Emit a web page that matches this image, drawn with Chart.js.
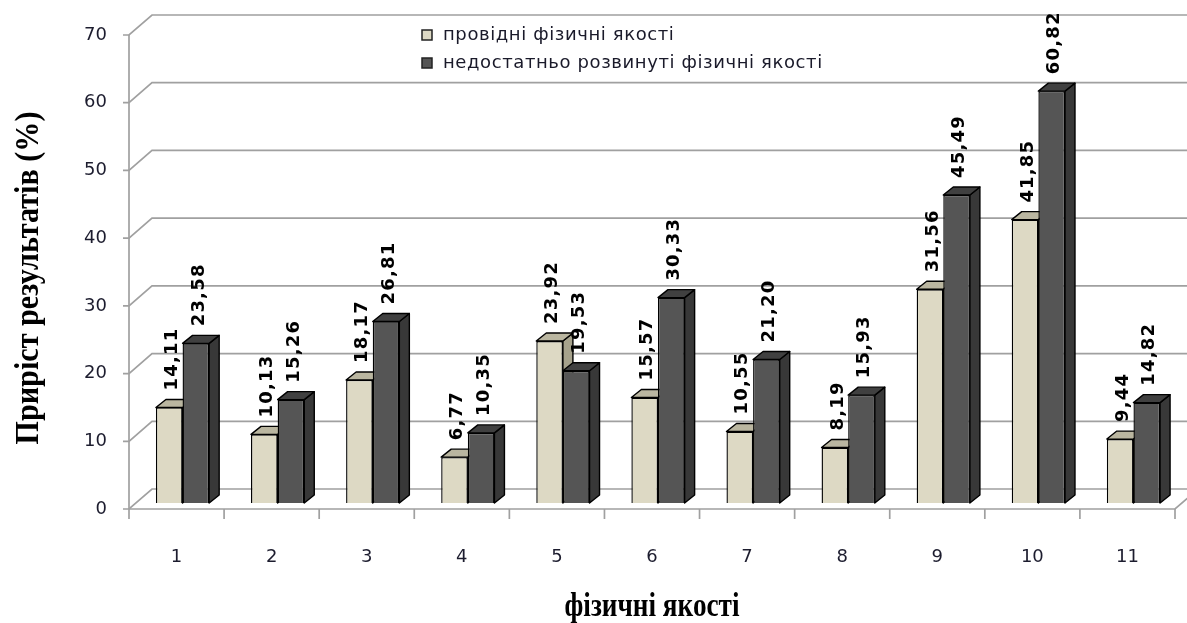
<!DOCTYPE html>
<html>
<head>
<meta charset="utf-8">
<script src="https://cdn.jsdelivr.net/npm/chart.js@4/dist/chart.umd.min.js"></script>
<style>
  html, body { margin: 0; padding: 0; background: #fff; }
  canvas { display: block; }
</style>
</head>
<body>
<canvas id="chart" width="1187" height="623"></canvas>
<script>
// Categories (physical qualities, numbered)
const categories = ['1', '2', '3', '4', '5', '6', '7', '8', '9', '10', '11'];

// Gain in results, %
const leadingQualities = [14.11, 10.13, 18.17, 6.77, 23.92, 15.57, 10.55, 8.19, 31.56, 41.85, 9.44];
const weakQualities    = [23.58, 15.26, 26.81, 10.35, 19.53, 30.33, 21.20, 15.93, 45.49, 60.82, 14.82];

const seriesNames = ['провідні фізичні якості', 'недостатньо розвинуті фізичні якості'];
const yTicks = [0, 10, 20, 30, 40, 50, 60, 70];
const xTitle = 'фізичні якості';
const yTitle = 'Приріст результатів (%)';

// Pseudo-3D geometry
const WALL = { x: 23, y: -20 };   // depth of the back wall / floor
const SHIFT = { x: 6, y: -6 };    // bars sit a little behind the front edge
const DEPTH = { x: 10, y: -8 };   // depth of each bar

const frontColors = ['#DDD9C4', '#555555'];
const topColors   = ['#BAB6A0', '#404040'];
const sideColors  = ['#A6A28C', '#383838'];

const fmt = v => v.toFixed(2).replace('.', ',');

function poly(ctx, pts) {
  ctx.beginPath();
  ctx.moveTo(pts[0][0], pts[0][1]);
  for (let k = 1; k < pts.length; k++) ctx.lineTo(pts[k][0], pts[k][1]);
  ctx.closePath();
  ctx.fill();
  ctx.stroke();
}

function drawCompressed(ctx, text, font, cx, cy, targetLen, angle) {
  ctx.save();
  ctx.font = font;
  const w = ctx.measureText(text).width;
  ctx.translate(cx, cy);
  ctx.rotate(angle);
  ctx.scale(targetLen / w, 1);
  ctx.textAlign = 'center';
  ctx.textBaseline = 'alphabetic';
  ctx.fillStyle = '#000';
  ctx.fillText(text, 0, 0);
  ctx.restore();
}

const bars3d = {
  id: 'bars3d',
  beforeDatasetsDraw(chart) {
    const { ctx, chartArea: a, scales: { x, y } } = chart;
    const y0 = y.getPixelForValue(0);
    const yTop = y.getPixelForValue(yTicks[yTicks.length - 1]);

    ctx.save();
    // back wall gridlines, diagonals and tick marks
    ctx.strokeStyle = '#a0a0a0';
    ctx.lineWidth = 1.7;
    yTicks.forEach(v => {
      const py = y.getPixelForValue(v);
      ctx.beginPath();
      ctx.moveTo(a.left - 6, py);
      ctx.lineTo(a.left, py);
      ctx.lineTo(a.left + WALL.x, py + WALL.y);
      ctx.lineTo(a.right + WALL.x + 30, py + WALL.y);
      ctx.stroke();
    });
    // front floor edge
    ctx.beginPath();
    ctx.moveTo(a.left, y0);
    ctx.lineTo(a.right, y0);
    ctx.lineTo(a.right + WALL.x, y0 + WALL.y);
    ctx.stroke();
    // value axis
    ctx.beginPath();
    ctx.moveTo(a.left, yTop);
    ctx.lineTo(a.left, y0);
    ctx.stroke();
    // category tick marks
    const n = categories.length;
    for (let i = 0; i <= n; i++) {
      let px;
      if (i === 0) px = a.left;
      else if (i === n) px = a.right;
      else px = (x.getPixelForValue(i - 1) + x.getPixelForValue(i)) / 2;
      ctx.beginPath();
      ctx.moveTo(px, y0);
      ctx.lineTo(px, y0 + 10);
      ctx.stroke();
    }
    ctx.restore();

    // bars: side, top, then front face, category by category
    const metas = chart.data.datasets.map((_, i) => chart.getDatasetMeta(i));
    ctx.save();
    ctx.translate(SHIFT.x, SHIFT.y);
    ctx.strokeStyle = '#000';
    ctx.lineWidth = 1.4;
    ctx.lineJoin = 'round';
    categories.forEach((_, j) => {
      metas.forEach((m, i) => {
        const el = m.data[j];
        const p = el.getProps(['x', 'y', 'base', 'width'], true);
        const l = p.x - p.width / 2, r = p.x + p.width / 2;
        ctx.fillStyle = sideColors[i];
        poly(ctx, [[r, p.y], [r + DEPTH.x, p.y + DEPTH.y], [r + DEPTH.x, p.base + DEPTH.y], [r, p.base]]);
        ctx.fillStyle = topColors[i];
        poly(ctx, [[l, p.y], [l + DEPTH.x, p.y + DEPTH.y], [r + DEPTH.x, p.y + DEPTH.y], [r, p.y]]);
        el.draw(ctx, a);
      });
    });

    // value labels, rotated
    ctx.font = 'bold 18px "DejaVu Sans"';
    ctx.letterSpacing = '1.2px';
    ctx.fillStyle = '#000';
    ctx.textAlign = 'left';
    ctx.textBaseline = 'middle';
    metas.forEach((m, i) => {
      const values = chart.data.datasets[i].data;
      m.data.forEach((el, j) => {
        const p = el.getProps(['x', 'y'], true);
        ctx.save();
        ctx.translate(p.x + 3, p.y - 17);
        ctx.rotate(-Math.PI / 2);
        ctx.fillText(fmt(values[j]), 0, 0);
        ctx.restore();
      });
    });
    ctx.restore();
    return false;
  },
  afterDraw(chart) {
    const { ctx } = chart;
    // legend
    ctx.save();
    ctx.font = '18px "DejaVu Sans"';
    ctx.letterSpacing = '0.6px';
    ctx.textAlign = 'left';
    ctx.textBaseline = 'middle';
    seriesNames.forEach((name, i) => {
      const cy = 35 + i * 28;
      ctx.fillStyle = frontColors[i];
      ctx.fillRect(422, cy - 5, 10, 10);
      ctx.strokeStyle = '#222';
      ctx.lineWidth = 1.5;
      ctx.strokeRect(422, cy - 5, 10, 10);
      ctx.fillStyle = '#1a1a2a';
      ctx.fillText(name, 443, cy);
    });
    ctx.restore();
    // axis titles
    drawCompressed(ctx, yTitle, 'bold 34px "Liberation Serif"', 38, 278, 333, -Math.PI / 2);
    drawCompressed(ctx, xTitle, 'bold 34px "Liberation Serif"', 652, 616, 175, 0);
  }
};

new Chart(document.getElementById('chart'), {
  type: 'bar',
  data: {
    labels: categories,
    datasets: [
      { label: seriesNames[0], data: leadingQualities, backgroundColor: frontColors[0] },
      { label: seriesNames[1], data: weakQualities, backgroundColor: frontColors[1] }
    ]
  },
  plugins: [bars3d],
  options: {
    responsive: false,
    animation: false,
    devicePixelRatio: 1,
    layout: { padding: { left: 0, right: 12, top: 35, bottom: 0 } },
    datasets: {
      bar: {
        categoryPercentage: 0.56,
        barPercentage: 1,
        borderColor: '#000',
        borderWidth: 1.4
      }
    },
    plugins: {
      legend: { display: false },
      tooltip: { enabled: false }
    },
    scales: {
      x: {
        type: 'category',
        offset: true,
        grid: { display: false, drawTicks: false },
        border: { display: false },
        ticks: {
          autoSkip: false,
          maxRotation: 0,
          padding: 38,
          color: '#1c1c2e',
          font: { family: 'DejaVu Sans', size: 18 }
        },
        afterFit(scale) { scale.height = 114; }
      },
      y: {
        min: 0,
        max: 70,
        grid: { display: false, drawTicks: false },
        border: { display: false },
        ticks: {
          stepSize: 10,
          padding: 22,
          color: '#1c1c2e',
          font: { family: 'DejaVu Sans', size: 18 }
        },
        afterFit(scale) { scale.width = 129; }
      }
    }
  }
});
</script>
</body>
</html>
